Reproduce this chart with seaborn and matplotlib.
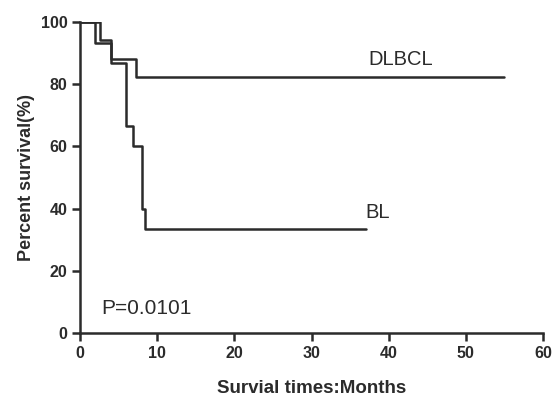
import pandas as pd
import matplotlib
matplotlib.use("Agg")
import matplotlib.pyplot as plt
import seaborn as sns

sns.set_style("ticks")
plt.rcParams['font.family'] = ['Liberation Sans', 'DejaVu Sans']

# Kaplan-Meier step points
dlbcl_t = [0, 2.6, 4.0, 7.3, 55]
dlbcl_s = [100, 94.1, 88.2, 82.4, 82.4]
bl_t = [0, 2.0, 4.0, 5.95, 6.9, 8.0, 8.45, 37]
bl_s = [100, 93.3, 86.7, 66.7, 60.0, 40.0, 33.3, 33.3]

xticks = [0, 10, 20, 30, 40, 50, 60]
yticks = [0, 20, 40, 60, 80, 100]

df = pd.concat([
    pd.DataFrame({'time': dlbcl_t, 'surv': dlbcl_s, 'group': 'DLBCL'}),
    pd.DataFrame({'time': bl_t, 'surv': bl_s, 'group': 'BL'}),
])

fig = plt.figure(figsize=(5.53, 3.99), dpi=100)
ax = fig.add_axes([0.1447, 0.1654, 0.8373, 0.7795])

for g in ['DLBCL', 'BL']:
    sub = df[df.group == g]
    sns.lineplot(data=sub, x='time', y='surv', ax=ax, color='#2b2b2b',
                 linewidth=1.8, drawstyle='steps-post', estimator=None,
                 sort=False)

ax.set_xlim(0, 60)
ax.set_ylim(0, 100)
ax.set_xticks(xticks)
ax.set_yticks(yticks)
ax.tick_params(axis='both', direction='out', width=1.8, color='#2b2b2b',
               labelsize=11.5, pad=3, length=6)
for lbl in ax.get_xticklabels() + ax.get_yticklabels():
    lbl.set_fontweight('bold')
    lbl.set_color('#2b2b2b')
sns.despine(ax=ax)
for s in ['left', 'bottom']:
    ax.spines[s].set_linewidth(1.8)
    ax.spines[s].set_color('#2b2b2b')
    ax.spines[s].set_clip_on(False)

ax.set_xlabel('Survial times:Months', fontsize=13.5, fontweight='bold',
              color='#2b2b2b', labelpad=14)
ax.set_ylabel('Percent survival(%)', fontsize=13, fontweight='bold',
              color='#2b2b2b', labelpad=4)

ax.text(41.5, 88, 'DLBCL', fontsize=14.5, ha='center', va='center', color='#2b2b2b')
ax.text(38.5, 38.7, 'BL', fontsize=14.5, ha='center', va='center', color='#2b2b2b')
ax.text(2.75, 8.0, 'P=0.0101', fontsize=15, ha='left', va='center', color='#2b2b2b')

fig.savefig('out.png', dpi=100)
